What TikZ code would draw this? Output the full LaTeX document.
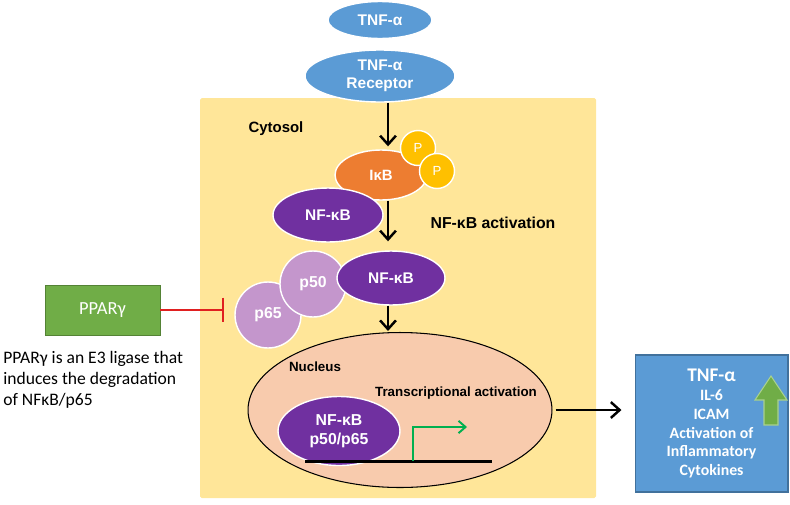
\documentclass[tikz,border=0pt]{standalone}
\usepackage{fontspec}
\setmainfont{Liberation Sans}
\newfontfamily\calibri{Carlito}
\usetikzlibrary{shapes.geometric,arrows.meta}

\definecolor{tnfblue}{RGB}{91,155,213}
\definecolor{cytoyellow}{RGB}{255,230,153}
\definecolor{ikborange}{RGB}{237,125,49}
\definecolor{pgold}{RGB}{255,192,0}
\definecolor{nfpurple}{RGB}{112,48,160}
\definecolor{sublilac}{RGB}{196,150,204}
\definecolor{nucpeach}{RGB}{248,203,173}
\definecolor{ppargreen}{RGB}{112,173,71}
\definecolor{pparedge}{RGB}{84,130,53}
\definecolor{upedge}{RGB}{169,209,142}
\definecolor{inhred}{RGB}{224,32,32}
\definecolor{tssgreen}{RGB}{0,176,80}
\definecolor{boxedge}{RGB}{65,113,156}

\tikzset{
  blob/.style={ellipse, draw=white, line width=0.8pt, inner sep=0pt, text=white, align=center},
  bfs/.style={font=\fontsize{#1}{10.4}\selectfont\bfseries},
  arr/.style={-{Straight Barb[length=5pt,width=9pt]}, line width=1.4pt},
  lbl/.style={text=black, bfs=#1}
}

\begin{document}
\begin{tikzpicture}[x=0.02cm, y=-0.02cm]
    \useasboundingbox (0,0) rectangle (790,504);

    % Cytosol
    \fill[cytoyellow, rounded corners=1pt] (200,98) rectangle (596,498);
    \node[lbl=8.5] (cyto) at (276,129) {Cytosol};

    % Receptor
    \node[blob, fill=tnfblue, minimum width=2.08cm, minimum height=0.74cm, bfs=8.8] (tnf) at (380,20) {TNF-α};
    \node[blob, fill=tnfblue, minimum width=3cm, minimum height=1.04cm, bfs=8.8] (rec) at (380,76) {TNF-α\\Receptor};

    % IkB complex
    \node[blob, fill=ikborange, minimum width=1.84cm, minimum height=1cm, bfs=8.5] (ikb) at (381,175) {IκB};
    \node[circle, draw=white, line width=0.8pt, fill=pgold, minimum size=0.7cm, inner sep=0pt, text=white, font=\fontsize{7.5}{9}\selectfont] (pa) at (418,148) {P};
    \node[circle, draw=white, line width=0.8pt, fill=pgold, minimum size=0.7cm, inner sep=0pt, text=white, font=\fontsize{7.5}{9}\selectfont] (pb) at (437,171) {P};
    \node[blob, fill=nfpurple, minimum width=2.2cm, minimum height=1.08cm, bfs=8.8] (nfa) at (328,215) {NF-κB};
    \node[lbl=9] (act) at (493,223) {NF-κB activation};

    % free NF-kB
    \node[blob, fill=sublilac, minimum width=1.32cm, minimum height=1.32cm, bfs=9] (p65) at (268,315) {p65};
    \node[blob, fill=sublilac, minimum width=1.32cm, minimum height=1.32cm, bfs=9] (p50) at (313,284) {p50};
    \node[blob, fill=nfpurple, minimum width=2.16cm, minimum height=1.08cm, bfs=8.8] (nfb) at (391,278) {NF-κB};

    % Nucleus
    \node[ellipse, draw=black, line width=0.6pt, fill=nucpeach, minimum width=6.08cm, minimum height=3.1cm] (nuc) at (400,410) {};
    \node[lbl=7.6] (nuclbl) at (315,367) {Nucleus};
    \node[lbl=7.6] (trans) at (456,393) {Transcriptional activation};
    \node[blob, fill=nfpurple, minimum width=2.44cm, minimum height=1.38cm, font=\fontsize{9}{10.8}\selectfont\bfseries] (nfc) at (339,431) {NF-κB\\p50/p65};
    \coordinate (dnaL) at (305,461);
    \coordinate (dnaR) at (492,461);
    \coordinate (tss) at (413,461);
    \coordinate (tssend) at (467,427);
    \draw[line width=1.7pt] (dnaL) -- (dnaR);
    \draw[tssgreen, line width=1.1pt, -{Straight Barb[length=4pt,width=7pt]}] (tss) |- (tssend);

    % signalling arrows
    \coordinate (axis) at (388,0);
    \draw[arr] (rec.south -| axis) -- ([yshift=0.06cm]ikb.north -| axis);
    \draw[arr] (ikb.south -| axis) -- ([yshift=0.18cm]nfb.north -| axis);
    \draw[arr] (nfb.south -| axis) -- ([yshift=0.02cm]nuc.north -| axis);

    % Output
    \node[rectangle, draw=boxedge, line width=0.6pt, fill=tnfblue, minimum width=3.06cm, minimum height=2.74cm, inner sep=0pt, text=white, align=center, font=\calibri\fontsize{9}{10.8}\selectfont\bfseries] (out) at (711.5,423.5)
        {{\fontsize{11}{10.8}\selectfont TNF-α}\\IL-6\\ICAM\\Activation of\\Inflammatory\\Cytokines};
    \filldraw[fill=ppargreen, draw=upedge, line width=0.6pt]
        (764,425) -- (764,400) -- (755,400) -- (771,376) -- (787,400) -- (778,400) -- (778,425) -- cycle;
    \draw[arr, shorten <=0.06cm, shorten >=0.26cm] (nuc.east) -- (nuc.east -| out.west);

    % PPARg
    \node[rectangle, draw=pparedge, line width=0.4pt, fill=ppargreen, minimum width=2.3cm, minimum height=1cm, text=white, font=\calibri\fontsize{10.5}{12}\selectfont] (ppar) at (102.5,310) {PPARγ};
    \draw[inhred, line width=1.1pt, -{Bar[width=14pt]}, shorten >=0.2cm] (ppar.east) -- (ppar.east -| p65.west);
    \node[anchor=north west, align=left, inner sep=0pt, font=\calibri\fontsize{10}{12}\selectfont] (note) at (3,351)
        {PPARγ is an E3 ligase that\\induces the degradation\\of NFκB/p65};
\end{tikzpicture}
\end{document}
